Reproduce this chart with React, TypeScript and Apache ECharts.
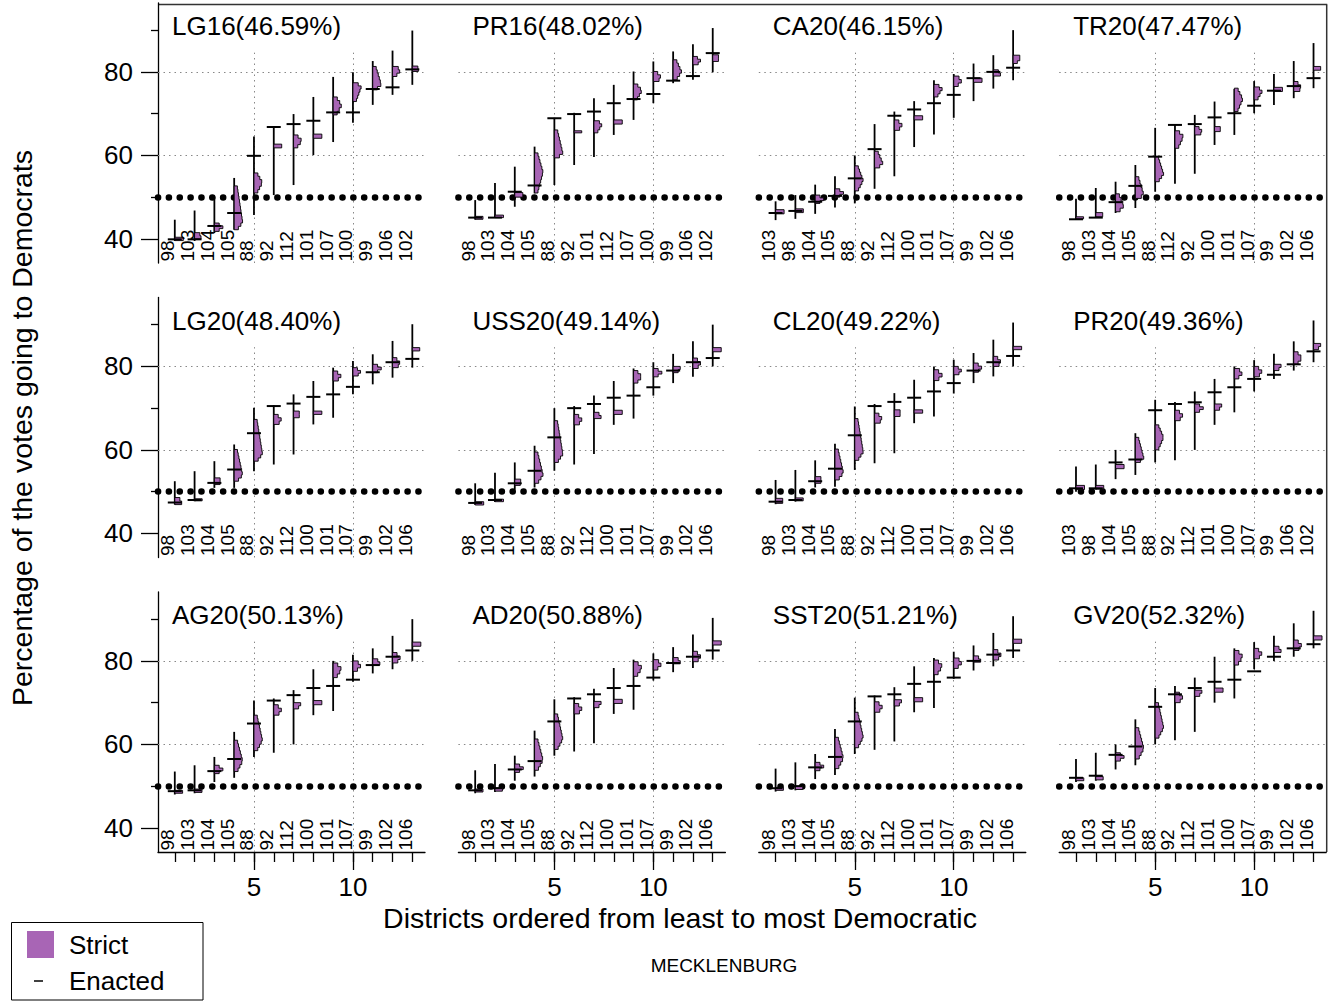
import React, { useEffect, useRef } from 'react';
import * as echarts from 'echarts';

const FONT = "'Liberation Sans', Arial, Helvetica, sans-serif";
const PURPLE = '#A865B5';

const PANEL_TITLES = [
  'LG16(46.59%)', 'PR16(48.02%)', 'CA20(46.15%)', 'TR20(47.47%)',
  'LG20(48.40%)', 'USS20(49.14%)', 'CL20(49.22%)', 'PR20(49.36%)',
  'AG20(50.13%)', 'AD20(50.88%)', 'SST20(51.21%)', 'GV20(52.32%)',
];

const DISTRICTS = [
  ['98', '103', '104', '105', '88', '92', '112', '101', '107', '100', '99', '106', '102'],
  ['98', '103', '104', '105', '88', '92', '101', '112', '107', '100', '99', '106', '102'],
  ['103', '98', '104', '105', '88', '92', '112', '100', '101', '107', '99', '102', '106'],
  ['98', '103', '104', '105', '88', '112', '92', '100', '101', '107', '99', '102', '106'],
  ['98', '103', '104', '105', '88', '92', '112', '100', '101', '107', '99', '102', '106'],
  ['98', '103', '104', '105', '88', '92', '112', '100', '101', '107', '99', '102', '106'],
  ['98', '103', '104', '105', '88', '92', '112', '100', '101', '107', '99', '102', '106'],
  ['103', '98', '104', '105', '88', '92', '112', '101', '100', '107', '99', '106', '102'],
  ['98', '103', '104', '105', '88', '92', '112', '100', '101', '107', '99', '102', '106'],
  ['98', '103', '104', '105', '88', '92', '112', '100', '101', '107', '99', '102', '106'],
  ['98', '103', '104', '105', '88', '92', '112', '100', '101', '107', '99', '102', '106'],
  ['98', '103', '104', '105', '88', '92', '112', '101', '100', '107', '99', '102', '106'],
];

const ENACTED = [
  [39.9, 39.9, 43.1, 46.2, 59.9, 66.8, 67.5, 68.3, 70.3, 70.3, 75.9, 76.3, 80.6],
  [45.1, 45.1, 51.3, 52.8, 68.9, 69.9, 70.5, 72.5, 73.5, 74.7, 77.9, 79.0, 84.5],
  [46.2, 46.7, 48.9, 50.3, 54.5, 61.5, 69.5, 71.0, 72.5, 74.5, 78.5, 80.0, 81.0],
  [44.7, 45.1, 48.8, 52.7, 59.7, 67.3, 67.5, 69.1, 70.1, 71.9, 75.5, 76.6, 78.5],
  [47.4, 48.0, 52.1, 55.3, 64.0, 70.5, 71.1, 72.7, 73.3, 75.1, 78.6, 81.0, 81.8],
  [47.3, 48.0, 52.0, 55.0, 63.0, 70.0, 71.0, 72.5, 73.0, 75.0, 79.0, 81.0, 82.0],
  [47.6, 48.0, 52.5, 55.5, 63.5, 70.5, 71.5, 72.5, 74.0, 76.0, 79.0, 81.0, 82.5],
  [50.8, 50.8, 57.0, 57.7, 69.5, 71.0, 71.4, 73.8, 75.0, 77.0, 78.0, 80.5, 83.6],
  [48.8, 49.0, 53.6, 56.5, 65.0, 70.5, 71.8, 73.5, 74.0, 75.5, 79.0, 81.0, 82.5],
  [49.0, 49.5, 54.0, 56.0, 65.5, 71.0, 72.0, 73.5, 74.0, 76.0, 79.5, 81.0, 82.5],
  [49.5, 50.0, 54.5, 57.0, 65.5, 71.5, 72.0, 74.5, 75.0, 76.0, 80.0, 81.5, 82.5],
  [52.0, 52.5, 57.5, 59.5, 69.0, 72.0, 73.5, 75.0, 75.5, 77.5, 81.0, 83.0, 84.0],
];

const RANGE_LO = [
  [39.5, 39.5, 41.4, 42.2, 45.7, 50.5, 52.9, 60.1, 63.2, 67.8, 72.1, 74.5, 76.9],
  [44.6, 45.0, 47.7, 50.9, 52.9, 57.7, 59.6, 64.9, 68.5, 72.5, 77.3, 78.1, 79.9],
  [44.5, 44.8, 46.0, 47.5, 48.5, 52.0, 55.0, 62.0, 65.0, 69.0, 73.0, 76.0, 78.0],
  [44.6, 45.0, 46.2, 47.4, 51.3, 53.2, 55.6, 62.5, 64.9, 70.1, 72.1, 73.7, 76.1],
  [46.9, 47.7, 50.9, 50.9, 54.9, 56.5, 58.9, 66.1, 67.7, 73.3, 75.7, 77.3, 79.7],
  [46.8, 47.5, 50.5, 51.0, 55.0, 56.5, 59.0, 66.0, 67.5, 73.0, 76.0, 77.5, 80.0],
  [47.0, 47.6, 51.0, 51.2, 55.2, 56.8, 59.2, 66.4, 68.0, 73.5, 76.0, 77.6, 80.0],
  [50.0, 50.5, 53.0, 54.0, 57.0, 57.5, 60.0, 66.0, 69.0, 74.0, 77.0, 79.0, 81.0],
  [48.0, 48.3, 51.0, 52.0, 57.0, 58.0, 60.0, 67.0, 68.0, 75.0, 77.0, 78.0, 80.0],
  [48.3, 48.6, 51.3, 52.3, 57.3, 58.3, 60.3, 67.3, 68.3, 75.3, 77.3, 78.3, 80.3],
  [48.7, 49.0, 51.7, 52.7, 57.7, 58.7, 60.7, 67.7, 68.7, 75.7, 77.7, 78.7, 80.7],
  [51.0, 51.3, 54.0, 55.0, 60.0, 61.0, 63.0, 70.0, 71.0, 78.0, 80.0, 81.0, 83.0],
];

const RANGE_HI = [
  [44.6, 46.8, 50.1, 54.6, 64.5, 66.9, 69.9, 74.0, 78.8, 79.9, 82.6, 85.1, 89.9],
  [49.3, 53.4, 57.3, 62.1, 69.0, 70.2, 73.7, 76.9, 80.1, 82.5, 84.9, 86.6, 90.5],
  [49.0, 50.5, 53.0, 55.0, 60.0, 67.5, 70.5, 73.0, 78.0, 79.5, 82.0, 84.0, 90.0],
  [49.6, 52.2, 53.7, 57.7, 66.6, 67.5, 69.7, 72.9, 75.9, 77.8, 79.5, 82.6, 86.9],
  [52.5, 54.9, 57.3, 61.3, 70.1, 70.7, 73.3, 76.5, 79.7, 81.3, 82.9, 86.1, 90.1],
  [52.0, 54.5, 57.0, 61.0, 70.0, 70.5, 73.0, 76.5, 79.5, 81.0, 83.0, 86.0, 90.0],
  [52.8, 55.2, 57.5, 61.5, 70.4, 71.0, 73.6, 76.8, 80.0, 81.6, 83.2, 86.4, 90.5],
  [56.0, 56.5, 60.0, 64.0, 72.0, 71.5, 74.0, 77.0, 80.0, 81.5, 83.0, 86.0, 91.0],
  [53.5, 55.0, 57.0, 63.0, 70.5, 71.0, 73.0, 78.0, 80.0, 81.5, 83.0, 86.0, 90.0],
  [53.8, 55.3, 57.3, 63.3, 70.8, 71.3, 73.3, 78.3, 80.3, 81.8, 83.3, 86.3, 90.3],
  [54.2, 55.7, 57.7, 63.7, 71.2, 71.7, 73.7, 78.7, 80.7, 82.2, 83.7, 86.7, 90.7],
  [56.5, 58.0, 60.0, 66.0, 73.5, 74.0, 76.0, 81.0, 83.0, 84.5, 86.0, 89.0, 92.0],
];

const STRICT_LO = [
  [39.6, 40.0, 41.8, 42.2, 51.0, 61.8, 61.8, 64.1, 69.7, 72.9, 75.7, 78.9, 80.1],
  [44.7, 45.1, 50.0, 51.0, 59.4, 65.4, 65.4, 67.5, 73.3, 77.7, 78.1, 81.7, 82.5],
  [46.0, 46.3, 48.5, 50.0, 51.5, 57.0, 66.0, 68.5, 74.0, 76.5, 77.5, 79.0, 82.0],
  [44.8, 45.3, 46.5, 49.7, 53.7, 61.7, 64.9, 65.7, 70.5, 73.3, 75.3, 75.3, 80.4],
  [46.9, 47.8, 51.7, 52.5, 57.3, 66.1, 67.7, 68.5, 76.5, 77.7, 78.5, 79.7, 83.7],
  [46.8, 47.6, 51.5, 52.0, 57.0, 66.0, 67.5, 68.5, 76.0, 77.5, 78.5, 79.5, 83.5],
  [47.2, 47.8, 52.0, 52.8, 57.5, 66.4, 68.0, 68.8, 76.6, 78.0, 78.6, 80.0, 84.0],
  [50.5, 50.6, 55.5, 57.0, 60.0, 67.0, 69.0, 69.5, 77.0, 77.5, 79.0, 80.5, 84.0],
  [48.3, 48.5, 53.0, 53.5, 58.5, 67.0, 68.5, 69.5, 76.0, 77.5, 79.0, 79.5, 83.5],
  [48.6, 48.8, 53.3, 53.8, 58.8, 67.3, 68.8, 69.8, 76.3, 77.8, 79.3, 79.8, 83.8],
  [49.0, 49.2, 53.7, 54.2, 59.2, 67.7, 69.2, 70.2, 76.7, 78.2, 79.7, 80.2, 84.2],
  [51.3, 51.5, 56.0, 56.5, 61.5, 70.0, 71.5, 72.5, 79.0, 80.5, 82.0, 82.5, 85.0],
];

const STRICT_MODE = [
  [40.0, 40.6, 42.8, 44.0, 53.5, 62.3, 63.5, 64.6, 72.0, 76.5, 77.0, 80.5, 80.7],
  [45.0, 45.4, 50.6, 56.0, 60.5, 65.7, 67.5, 68.0, 75.5, 78.5, 80.0, 82.5, 83.3],
  [46.5, 46.7, 49.5, 51.0, 54.0, 58.0, 67.0, 69.0, 76.0, 78.0, 78.0, 79.5, 83.5],
  [45.0, 45.6, 48.0, 50.5, 55.5, 64.5, 65.5, 66.3, 73.5, 75.5, 75.8, 76.0, 80.7],
  [47.5, 48.0, 52.5, 54.0, 59.0, 67.0, 68.5, 68.9, 77.5, 78.5, 79.5, 80.5, 84.0],
  [47.2, 47.9, 52.3, 54.0, 59.0, 67.0, 68.0, 69.0, 77.5, 78.5, 79.5, 80.5, 84.0],
  [47.6, 48.1, 52.8, 54.5, 59.5, 67.2, 68.8, 69.2, 77.8, 78.8, 79.6, 80.8, 84.4],
  [51.0, 51.0, 56.0, 58.0, 63.0, 68.0, 70.0, 70.5, 78.5, 78.5, 80.0, 82.0, 85.0],
  [48.6, 48.8, 54.0, 56.0, 61.0, 68.0, 69.5, 70.0, 78.0, 79.0, 79.5, 80.5, 84.0],
  [48.9, 49.1, 54.3, 56.3, 61.3, 68.3, 69.8, 70.3, 78.3, 79.3, 79.8, 80.8, 84.3],
  [49.3, 49.5, 54.7, 56.7, 61.7, 68.7, 70.2, 70.7, 78.7, 79.7, 80.2, 81.2, 84.7],
  [51.6, 51.8, 57.0, 59.0, 64.0, 71.0, 72.5, 73.0, 81.0, 81.5, 82.5, 83.5, 85.5],
];

const STRICT_HI = [
  [40.4, 41.5, 43.8, 52.7, 55.8, 62.7, 64.9, 65.1, 74.0, 77.4, 81.3, 81.3, 81.4],
  [45.4, 45.7, 51.1, 60.6, 66.1, 65.9, 68.3, 68.5, 77.1, 80.1, 82.9, 83.7, 84.1],
  [47.0, 47.2, 50.5, 52.0, 57.5, 61.0, 68.5, 69.5, 77.0, 79.0, 78.5, 80.5, 84.0],
  [45.3, 46.3, 50.8, 54.9, 59.7, 65.9, 66.9, 66.9, 76.1, 76.4, 76.3, 77.7, 81.3],
  [48.6, 48.3, 53.3, 60.1, 67.3, 68.5, 69.3, 69.3, 78.9, 79.7, 80.5, 82.1, 84.5],
  [47.6, 48.2, 53.0, 59.5, 67.0, 68.5, 69.0, 69.5, 79.0, 79.5, 80.0, 82.0, 84.5],
  [48.4, 48.5, 53.6, 60.2, 67.5, 68.8, 69.6, 69.6, 79.2, 80.0, 80.8, 82.4, 84.8],
  [51.5, 51.5, 56.5, 63.0, 66.0, 69.5, 71.0, 71.0, 79.5, 80.0, 80.5, 83.5, 85.5],
  [49.0, 49.3, 55.0, 61.0, 67.0, 69.5, 70.0, 70.5, 79.5, 80.0, 80.5, 82.0, 84.5],
  [49.3, 49.6, 55.3, 61.3, 67.3, 69.8, 70.3, 70.8, 79.8, 80.3, 80.8, 82.3, 84.8],
  [49.7, 50.0, 55.7, 61.7, 67.7, 70.2, 70.7, 71.2, 80.2, 80.7, 81.2, 82.7, 85.2],
  [52.0, 52.3, 58.0, 64.0, 70.0, 72.5, 73.0, 73.5, 82.5, 83.0, 83.5, 85.0, 86.0],
];

const Y_TICKS_MAJOR = [40, 60, 80];
const Y_TICKS_MINOR = [50, 70, 90];
const X_TICKS_MAJOR = [5, 10];
const X_TICKS_MINOR = [1, 2, 3, 4, 5, 6, 7, 8, 9, 10, 11, 12, 13];
const GRID_Y = [60, 80];
const GRID_X = [5, 10];
const THRESHOLD = 50;

const Y_MIN = 34.23;
const Y_MAX = 96.5;
const GRID_X_TOP = 84.6;
const X_MIN = 0.152;
const X_MAX = 13.64;

const GRID_LEFT0 = 158;
const GRID_TOP0 = 3;
const COL_STEP = 300.4;
const ROW_STEP = 294.5;
const GRID_W = 267;
const GRID_H = 260;
const MAX_W = 8.5;
const BIN = 0.8;

function makeRenderItem(p: number) {
  return (params: any, api: any) => {
    const i = params.dataIndex;
    const d = api.value(0);
    const en = api.value(1);
    const lo = api.value(2);
    const hi = api.value(3);
    const sLo = api.value(4);
    const sMode = api.value(5);
    const sHi = api.value(6);
    const [x0, yLo] = api.coord([d, lo]);
    const yHi = api.coord([d, hi])[1];
    const yEn = api.coord([d, en])[1];
    const yBase = api.coord([d, Y_MIN])[1];
    const n = Math.max(1, Math.round((sHi - sLo) / BIN));
    const step = (sHi - sLo) / n;
    const pts: number[][] = [[x0, api.coord([d, sLo])[1]]];
    for (let k = 0; k < n; k++) {
      const v0 = sLo + k * step;
      const v1 = v0 + step;
      const vc = (v0 + v1) / 2;
      let f;
      if (vc <= sMode) f = sMode - sLo > 0.01 ? (vc - sLo) / (sMode - sLo) : 1;
      else f = sHi - sMode > 0.01 ? (sHi - vc) / (sHi - sMode) : 1;
      f = Math.max(0, Math.min(1, f));
      const w = MAX_W * (0.35 + 0.65 * f);
      pts.push([x0 + w, api.coord([d, v0])[1]]);
      pts.push([x0 + w, api.coord([d, v1])[1]]);
    }
    pts.push([x0, api.coord([d, sHi])[1]]);
    return {
      type: 'group',
      children: [
        { type: 'line', shape: { x1: x0, y1: yLo, x2: x0, y2: yHi }, style: { stroke: '#000', lineWidth: 1.8 } },
        { type: 'polygon', shape: { points: pts }, style: { fill: PURPLE, stroke: '#000', lineWidth: 0.9 } },
        { type: 'line', shape: { x1: x0 - 7, y1: yEn, x2: x0 + 7, y2: yEn }, style: { stroke: '#000', lineWidth: 2 } },
        {
          type: 'text', x: x0 + 2.5, y: yBase - 1.5, rotation: Math.PI / 2,
          style: { text: DISTRICTS[p][i], fontSize: 19, fontFamily: FONT, fill: '#000', align: 'left', verticalAlign: 'bottom' },
        },
      ],
    };
  };
}

function buildOption() {
  const grids: any[] = [];
  const xAxes: any[] = [];
  const yAxes: any[] = [];
  const series: any[] = [];
  const graphics: any[] = [];
  const axisLineStyle = { color: '#000', width: 1.3 };

  for (let p = 0; p < 12; p++) {
    const r = Math.floor(p / 4);
    const c = p % 4;
    const left = GRID_LEFT0 + COL_STEP * c;
    const top = GRID_TOP0 + ROW_STEP * r;
    grids.push({ left, top, width: GRID_W, height: GRID_H });
    xAxes.push({
      type: 'value', gridIndex: p, min: X_MIN, max: X_MAX, show: r === 2, position: 'bottom',
      axisLine: { show: true, onZero: false, lineStyle: axisLineStyle },
      axisTick: { show: true, customValues: X_TICKS_MINOR, length: 10, lineStyle: axisLineStyle },
      axisLabel: { show: false }, splitLine: { show: false },
    });
    yAxes.push({
      type: 'value', gridIndex: p, min: Y_MIN, max: Y_MAX, show: c === 0, position: 'left',
      axisLine: { show: true, onZero: false, lineStyle: axisLineStyle },
      axisTick: { show: true, customValues: Y_TICKS_MINOR, length: 7, lineStyle: axisLineStyle },
      axisLabel: { show: false }, splitLine: { show: false },
    });
    const data = DISTRICTS[p].map((_, i) => [
      i + 1, ENACTED[p][i], RANGE_LO[p][i], RANGE_HI[p][i], STRICT_LO[p][i], STRICT_MODE[p][i], STRICT_HI[p][i],
    ]);
    const dotted = { color: '#888', width: 1, type: [1.5, 4] };
    series.push({
      type: 'custom', xAxisIndex: p, yAxisIndex: p, renderItem: makeRenderItem(p),
      encode: { x: 0, y: [1, 2, 3] }, data, clip: false, z: 3,
      markLine: {
        silent: true, symbol: ['none', 'none'], label: { show: false }, animation: false, z: 2,
        data: [
          ...GRID_Y.map((v) => ({ yAxis: v, lineStyle: dotted })),
          ...GRID_X.map((v) => [
            { coord: [v, Y_MIN], lineStyle: dotted },
            { coord: [v, GRID_X_TOP], lineStyle: dotted },
          ]),
          { yAxis: THRESHOLD, lineStyle: { color: '#000', width: 6.5, type: [0.1, 10.75], cap: 'round' } },
        ],
      },
    });
    graphics.push({
      type: 'text', x: left + 14, y: top + 23,
      style: { text: PANEL_TITLES[p], fontSize: 26, fontFamily: FONT, fill: '#000', verticalAlign: 'middle' },
    });
  }

  let gi = 12;
  for (let r = 0; r < 3; r++) {
    grids.push({ left: GRID_LEFT0, top: GRID_TOP0 + ROW_STEP * r, width: GRID_W, height: GRID_H });
    xAxes.push({ type: 'value', gridIndex: gi, min: X_MIN, max: X_MAX, show: false });
    yAxes.push({
      type: 'value', gridIndex: gi, min: Y_MIN, max: Y_MAX, position: 'left',
      axisLine: { show: false },
      axisTick: { show: true, customValues: Y_TICKS_MAJOR, length: 17, lineStyle: axisLineStyle },
      axisLabel: { show: true, customValues: Y_TICKS_MAJOR, fontSize: 26, fontFamily: FONT, color: '#000', margin: 25 },
      splitLine: { show: false },
    });
    gi++;
  }
  for (let c = 0; c < 4; c++) {
    grids.push({ left: GRID_LEFT0 + COL_STEP * c, top: GRID_TOP0 + ROW_STEP * 2, width: GRID_W, height: GRID_H });
    xAxes.push({
      type: 'value', gridIndex: gi, min: X_MIN, max: X_MAX, position: 'bottom',
      axisLine: { show: false, onZero: false },
      axisTick: { show: true, customValues: X_TICKS_MAJOR, length: 18, lineStyle: axisLineStyle },
      axisLabel: { show: true, customValues: X_TICKS_MAJOR, fontSize: 26, fontFamily: FONT, color: '#000', margin: 22 },
      splitLine: { show: false },
    });
    yAxes.push({ type: 'value', gridIndex: gi, min: Y_MIN, max: Y_MAX, show: false });
    gi++;
  }

  const right = GRID_LEFT0 + COL_STEP * 3 + GRID_W;
  const bottom = GRID_TOP0 + ROW_STEP * 2 + GRID_H;
  graphics.push(
    { type: 'line', shape: { x1: GRID_LEFT0, y1: 4.5, x2: right + 1, y2: 4.5 }, style: { stroke: '#333', lineWidth: 1.5 } },
    { type: 'line', shape: { x1: right + 0.5, y1: 4.5, x2: right + 0.5, y2: bottom }, style: { stroke: '#333', lineWidth: 1.5 } },
    {
      type: 'text', x: 22, y: 428, rotation: Math.PI / 2,
      style: { text: 'Percentage of the votes going to Democrats', fontSize: 28.5, fontFamily: FONT, fill: '#000', align: 'center', verticalAlign: 'middle' },
    },
    {
      type: 'text', x: 680, y: 918,
      style: { text: 'Districts ordered from least to most Democratic', fontSize: 28.5, fontFamily: FONT, fill: '#000', align: 'center', verticalAlign: 'middle' },
    },
    {
      type: 'text', x: 724, y: 965,
      style: { text: 'MECKLENBURG', fontSize: 19, fontFamily: FONT, fill: '#000', align: 'center', verticalAlign: 'middle' },
    },
    { type: 'rect', shape: { x: 11.5, y: 922.5, width: 191.5, height: 77.5 }, style: { fill: '#fff', stroke: '#000', lineWidth: 1 } },
    { type: 'rect', shape: { x: 27, y: 931, width: 27, height: 27 }, style: { fill: PURPLE } },
    { type: 'text', x: 69, y: 945, style: { text: 'Strict', fontSize: 26, fontFamily: FONT, fill: '#000', verticalAlign: 'middle' } },
    { type: 'line', shape: { x1: 34, y1: 981, x2: 43, y2: 981 }, style: { stroke: '#000', lineWidth: 1.5 } },
    { type: 'text', x: 69, y: 981, style: { text: 'Enacted', fontSize: 26, fontFamily: FONT, fill: '#000', verticalAlign: 'middle' } },
  );

  return {
    animation: false,
    backgroundColor: '#fff',
    grid: grids,
    xAxis: xAxes,
    yAxis: yAxes,
    series,
    graphic: graphics,
  };
}

export default function App() {
  const ref = useRef<HTMLDivElement>(null);
  useEffect(() => {
    document.body.style.margin = '0';
    const chart = echarts.init(ref.current as HTMLDivElement, null, { renderer: 'svg' });
    chart.setOption(buildOption() as any);
    return () => chart.dispose();
  }, []);
  return <div ref={ref} style={{ width: 1335, height: 1003 }} />;
}
